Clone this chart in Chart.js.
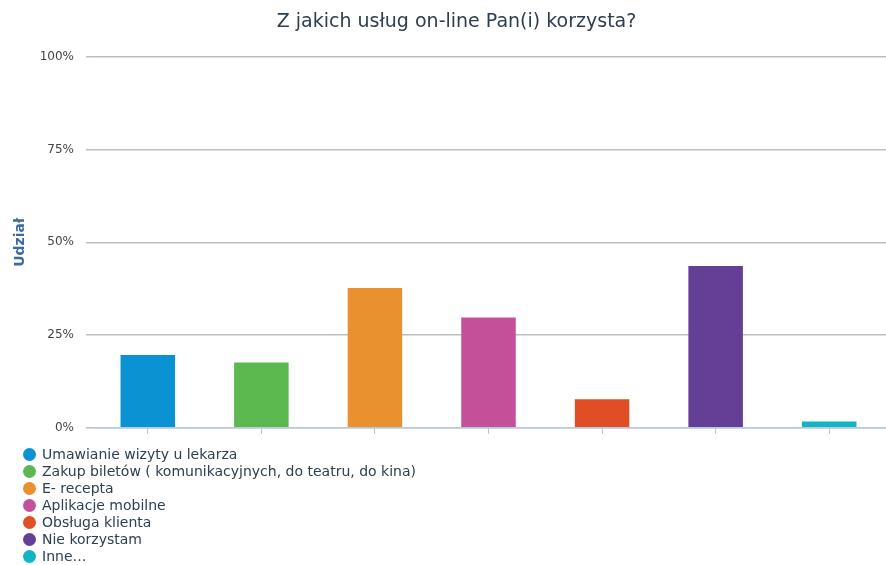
<!DOCTYPE html>
<html>
<head>
<meta charset="utf-8">
<script src="https://cdn.jsdelivr.net/npm/chart.js@4.4.1/dist/chart.umd.min.js"></script>
<style>
  body { margin: 0; background: #fff; font-family: "DejaVu Sans", sans-serif; }
  #wrap { position: relative; width: 886px; height: 565px; }
  #box { position: absolute; left: 0; top: 0; width: 886px; height: 447px; }
  #legend { position: absolute; left: 23px; top: 446px; list-style: none; margin: 0; padding: 0;
            font-size: 14px; line-height: 17px; color: #2d4052; }
  #legend li { display: flex; align-items: center; white-space: nowrap; }
  #legend span { display: inline-block; width: 13px; height: 13px; border-radius: 50%; margin-right: 6px; }
</style>
</head>
<body>
<div id="wrap">
  <div id="box"><canvas id="chart"></canvas></div>
  <ul id="legend"></ul>
</div>
<script>
const categories = [
  "Umawianie wizyty u lekarza",
  "Zakup biletów ( komunikacyjnych, do teatru, do kina)",
  "E- recepta",
  "Aplikacje mobilne",
  "Obsługa klienta",
  "Nie korzystam",
  "Inne…"
];
const shares = [19.6, 17.6, 37.7, 29.7, 7.7, 43.6, 1.7];
const colors = ["#0a92d2", "#5cb950", "#ea912f", "#c5509a", "#e04e26", "#653f95", "#12b5c4"];

Chart.defaults.font.family = "DejaVu Sans";

// legend as a plain list under the canvas, one entry per line
const legend = document.getElementById("legend");
categories.forEach((name, i) => {
  const li = document.createElement("li");
  const dot = document.createElement("span");
  dot.style.background = colors[i];
  li.appendChild(dot);
  li.appendChild(document.createTextNode(name));
  legend.appendChild(li);
});

new Chart(document.getElementById("chart"), {
  type: "bar",
  data: {
    labels: categories,
    datasets: [
      {
        label: "Udział",
        data: shares,
        backgroundColor: colors,
        barPercentage: 0.48,
        categoryPercentage: 1,
      },
    ],
  },
  options: {
    responsive: true,
    maintainAspectRatio: false,
    animation: false,
    layout: { padding: { left: 24, right: -3, top: 0, bottom: 0 } },
    plugins: {
      legend: { display: false },
      title: {
        display: true,
        text: "Z jakich usług on-line Pan(i) korzysta?",
        color: "#2c3e50",
        font: { size: 19, weight: "normal" },
        padding: { top: 11, bottom: 23 },
      },
      tooltip: { callbacks: { label: (c) => c.parsed.y + "%" } },
    },
    scales: {
      x: {
        grid: { drawOnChartArea: false, offset: false, tickLength: 6, color: "#b7c4d0" },
        border: { color: "#b7c9db", width: 1.5 },
        ticks: { display: false },
        afterFit: (s) => { s.height = 13; },
      },
      y: {
        min: 0,
        max: 100,
        ticks: {
          stepSize: 25,
          padding: 12,
          color: "#444",
          font: { size: 12 },
          callback: (v) => v + "%",
        },
        grid: { color: "#babfc6", lineWidth: 1.5, tickLength: 5 },
        border: { display: false },
        title: {
          display: true,
          text: "Udział",
          color: "#3b6aa0",
          font: { size: 14, weight: "bold" },
          padding: { top: -12, bottom: 0 },
        },
        afterFit: (s) => { s.width = 67; },
      },
    },
  },
});
</script>
</body>
</html>
